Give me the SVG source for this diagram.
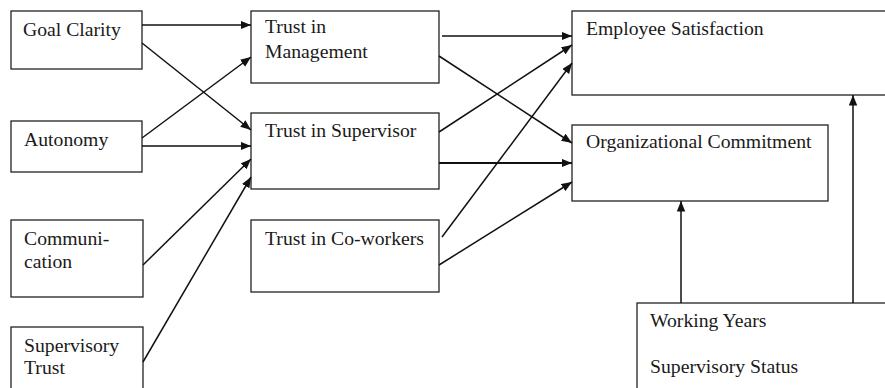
<svg xmlns="http://www.w3.org/2000/svg" width="885" height="388" viewBox="0 0 885 388">
<defs>
<marker id="arr" markerUnits="userSpaceOnUse" markerWidth="11" markerHeight="9" refX="10.5" refY="4.25" orient="auto">
<path d="M0,0 L10.5,4.25 L0,8.5 z" fill="#111"/>
</marker>
<style>
.box{fill:#fff;stroke:#222;stroke-width:1.3}
.t{font-family:"Liberation Serif","Times New Roman",serif;font-size:19.7px;fill:#1a1a1a}
.c line{stroke:#111;stroke-width:1.5;marker-end:url(#arr)}
</style>
</defs>
<rect width="885" height="388" fill="#fff"/>
<g id="goal-clarity"><rect class="box" x="11" y="11" width="131" height="58"/><text class="t" x="23" y="36">Goal Clarity</text></g>
<g id="autonomy"><rect class="box" x="11" y="121" width="131" height="51"/><text class="t" x="24" y="146">Autonomy</text></g>
<g id="communication"><rect class="box" x="11" y="220" width="132" height="77"/><text class="t" x="24" y="245">Communi-</text><text class="t" x="24" y="268">cation</text></g>
<g id="supervisory-trust"><rect class="box" x="11" y="327" width="132" height="80"/><text class="t" x="24" y="352">Supervisory</text><text class="t" x="24" y="374">Trust</text></g>
<g id="trust-management"><rect class="box" x="251" y="11" width="188" height="72"/><text class="t" x="265" y="33">Trust in</text><text class="t" x="265" y="58">Management</text></g>
<g id="trust-supervisor"><rect class="box" x="251" y="113" width="188" height="76"/><text class="t" x="265" y="137">Trust in Supervisor</text></g>
<g id="trust-coworkers"><rect class="box" x="251" y="220" width="188" height="72"/><text class="t" x="265" y="245">Trust in Co-workers</text></g>
<g id="employee-satisfaction"><rect class="box" x="572" y="11" width="330" height="84"/><text class="t" x="586" y="35">Employee Satisfaction</text></g>
<g id="organizational-commitment"><rect class="box" x="572" y="125" width="256" height="76"/><text class="t" x="586" y="148">Organizational Commitment</text></g>
<g id="controls"><rect class="box" x="637" y="303" width="265" height="100"/><text class="t" x="650" y="327">Working Years</text><text class="t" x="650" y="373">Supervisory Status</text></g>
<g id="connectors" class="c">
<line x1="142" y1="25" x2="251" y2="25"/>
<line x1="142" y1="43" x2="251" y2="130"/>
<line x1="142" y1="138" x2="251" y2="57"/>
<line x1="142" y1="146" x2="251" y2="146"/>
<line x1="143" y1="265" x2="251" y2="159"/>
<line x1="143" y1="362" x2="251" y2="177"/>
<line x1="442" y1="36" x2="572" y2="36"/>
<line x1="439" y1="56" x2="572" y2="143"/>
<line x1="439" y1="132" x2="572" y2="45"/>
<line x1="439" y1="163" x2="572" y2="163" style="stroke-width:2"/>
<line x1="442" y1="237" x2="572" y2="63"/>
<line x1="439" y1="265" x2="572" y2="182"/>
<line x1="681" y1="303" x2="681" y2="201"/>
<line x1="853" y1="303" x2="853" y2="95"/>
</g>
</svg>
